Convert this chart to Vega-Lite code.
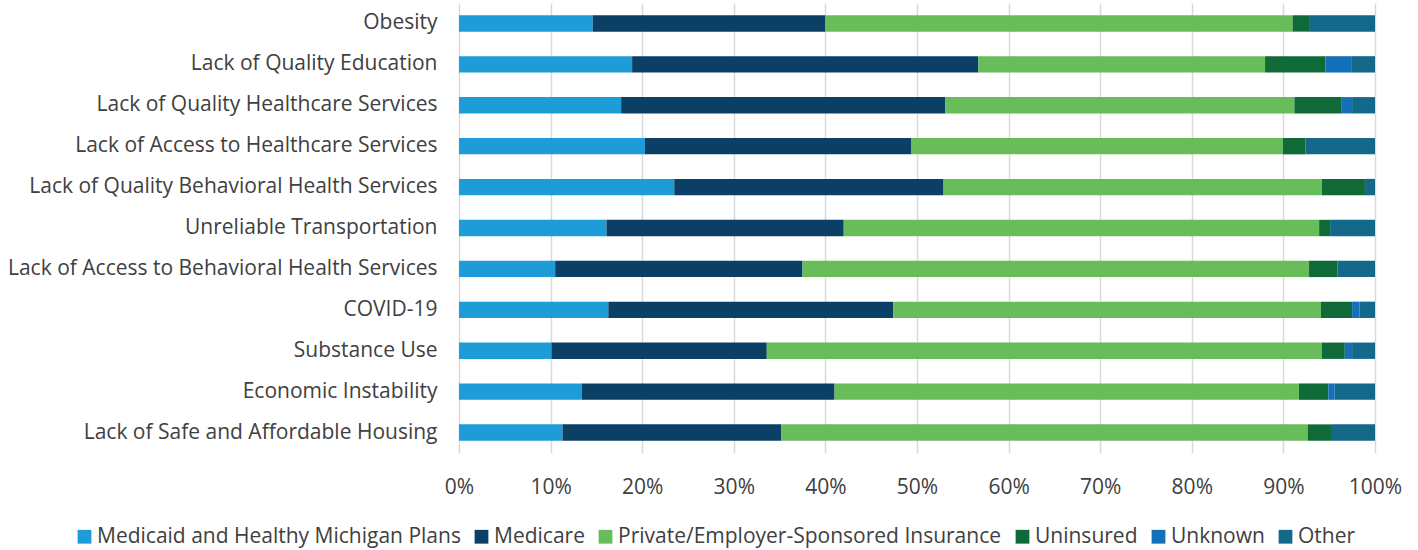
{
  "$schema": "https://vega.github.io/schema/vega-lite/v6.json",
  "width": 916,
  "height": 450,
  "autosize": "none",
  "padding": {"left": 459, "top": 3, "right": 43, "bottom": 97},
  "background": "white",
  "config": {"view": {"stroke": null}, "font": "Open Sans"},
  "data": {"values": [
    {"cause": "Obesity", "plan": "Medicaid and Healthy Michigan Plans", "o": 1, "v": 14.6},
    {"cause": "Obesity", "plan": "Medicare", "o": 2, "v": 25.4},
    {"cause": "Obesity", "plan": "Private/Employer-Sponsored Insurance", "o": 3, "v": 51.0},
    {"cause": "Obesity", "plan": "Uninsured", "o": 4, "v": 1.8},
    {"cause": "Obesity", "plan": "Unknown", "o": 5, "v": 0},
    {"cause": "Obesity", "plan": "Other", "o": 6, "v": 7.2},
    {"cause": "Lack of Quality Education", "plan": "Medicaid and Healthy Michigan Plans", "o": 1, "v": 18.9},
    {"cause": "Lack of Quality Education", "plan": "Medicare", "o": 2, "v": 37.8},
    {"cause": "Lack of Quality Education", "plan": "Private/Employer-Sponsored Insurance", "o": 3, "v": 31.3},
    {"cause": "Lack of Quality Education", "plan": "Uninsured", "o": 4, "v": 6.6},
    {"cause": "Lack of Quality Education", "plan": "Unknown", "o": 5, "v": 2.8},
    {"cause": "Lack of Quality Education", "plan": "Other", "o": 6, "v": 2.6},
    {"cause": "Lack of Quality Healthcare Services", "plan": "Medicaid and Healthy Michigan Plans", "o": 1, "v": 17.7},
    {"cause": "Lack of Quality Healthcare Services", "plan": "Medicare", "o": 2, "v": 35.4},
    {"cause": "Lack of Quality Healthcare Services", "plan": "Private/Employer-Sponsored Insurance", "o": 3, "v": 38.1},
    {"cause": "Lack of Quality Healthcare Services", "plan": "Uninsured", "o": 4, "v": 5.1},
    {"cause": "Lack of Quality Healthcare Services", "plan": "Unknown", "o": 5, "v": 1.2},
    {"cause": "Lack of Quality Healthcare Services", "plan": "Other", "o": 6, "v": 2.5},
    {"cause": "Lack of Access to Healthcare Services", "plan": "Medicaid and Healthy Michigan Plans", "o": 1, "v": 20.3},
    {"cause": "Lack of Access to Healthcare Services", "plan": "Medicare", "o": 2, "v": 29.1},
    {"cause": "Lack of Access to Healthcare Services", "plan": "Private/Employer-Sponsored Insurance", "o": 3, "v": 40.55},
    {"cause": "Lack of Access to Healthcare Services", "plan": "Uninsured", "o": 4, "v": 2.45},
    {"cause": "Lack of Access to Healthcare Services", "plan": "Unknown", "o": 5, "v": 0},
    {"cause": "Lack of Access to Healthcare Services", "plan": "Other", "o": 6, "v": 7.6},
    {"cause": "Lack of Quality Behavioral Health Services", "plan": "Medicaid and Healthy Michigan Plans", "o": 1, "v": 23.5},
    {"cause": "Lack of Quality Behavioral Health Services", "plan": "Medicare", "o": 2, "v": 29.4},
    {"cause": "Lack of Quality Behavioral Health Services", "plan": "Private/Employer-Sponsored Insurance", "o": 3, "v": 41.3},
    {"cause": "Lack of Quality Behavioral Health Services", "plan": "Uninsured", "o": 4, "v": 4.7},
    {"cause": "Lack of Quality Behavioral Health Services", "plan": "Unknown", "o": 5, "v": 0},
    {"cause": "Lack of Quality Behavioral Health Services", "plan": "Other", "o": 6, "v": 1.1},
    {"cause": "Unreliable Transportation", "plan": "Medicaid and Healthy Michigan Plans", "o": 1, "v": 16.1},
    {"cause": "Unreliable Transportation", "plan": "Medicare", "o": 2, "v": 25.9},
    {"cause": "Unreliable Transportation", "plan": "Private/Employer-Sponsored Insurance", "o": 3, "v": 51.9},
    {"cause": "Unreliable Transportation", "plan": "Uninsured", "o": 4, "v": 1.2},
    {"cause": "Unreliable Transportation", "plan": "Unknown", "o": 5, "v": 0},
    {"cause": "Unreliable Transportation", "plan": "Other", "o": 6, "v": 4.9},
    {"cause": "Lack of Access to Behavioral Health Services", "plan": "Medicaid and Healthy Michigan Plans", "o": 1, "v": 10.5},
    {"cause": "Lack of Access to Behavioral Health Services", "plan": "Medicare", "o": 2, "v": 27.0},
    {"cause": "Lack of Access to Behavioral Health Services", "plan": "Private/Employer-Sponsored Insurance", "o": 3, "v": 55.3},
    {"cause": "Lack of Access to Behavioral Health Services", "plan": "Uninsured", "o": 4, "v": 3.1},
    {"cause": "Lack of Access to Behavioral Health Services", "plan": "Unknown", "o": 5, "v": 0},
    {"cause": "Lack of Access to Behavioral Health Services", "plan": "Other", "o": 6, "v": 4.1},
    {"cause": "COVID-19", "plan": "Medicaid and Healthy Michigan Plans", "o": 1, "v": 16.3},
    {"cause": "COVID-19", "plan": "Medicare", "o": 2, "v": 31.1},
    {"cause": "COVID-19", "plan": "Private/Employer-Sponsored Insurance", "o": 3, "v": 46.7},
    {"cause": "COVID-19", "plan": "Uninsured", "o": 4, "v": 3.4},
    {"cause": "COVID-19", "plan": "Unknown", "o": 5, "v": 0.8},
    {"cause": "COVID-19", "plan": "Other", "o": 6, "v": 1.7},
    {"cause": "Substance Use", "plan": "Medicaid and Healthy Michigan Plans", "o": 1, "v": 10.1},
    {"cause": "Substance Use", "plan": "Medicare", "o": 2, "v": 23.5},
    {"cause": "Substance Use", "plan": "Private/Employer-Sponsored Insurance", "o": 3, "v": 60.6},
    {"cause": "Substance Use", "plan": "Uninsured", "o": 4, "v": 2.5},
    {"cause": "Substance Use", "plan": "Unknown", "o": 5, "v": 0.8},
    {"cause": "Substance Use", "plan": "Other", "o": 6, "v": 2.5},
    {"cause": "Economic Instability", "plan": "Medicaid and Healthy Michigan Plans", "o": 1, "v": 13.4},
    {"cause": "Economic Instability", "plan": "Medicare", "o": 2, "v": 27.6},
    {"cause": "Economic Instability", "plan": "Private/Employer-Sponsored Insurance", "o": 3, "v": 50.7},
    {"cause": "Economic Instability", "plan": "Uninsured", "o": 4, "v": 3.2},
    {"cause": "Economic Instability", "plan": "Unknown", "o": 5, "v": 0.7},
    {"cause": "Economic Instability", "plan": "Other", "o": 6, "v": 4.4},
    {"cause": "Lack of Safe and Affordable Housing", "plan": "Medicaid and Healthy Michigan Plans", "o": 1, "v": 11.3},
    {"cause": "Lack of Safe and Affordable Housing", "plan": "Medicare", "o": 2, "v": 23.9},
    {"cause": "Lack of Safe and Affordable Housing", "plan": "Private/Employer-Sponsored Insurance", "o": 3, "v": 57.45},
    {"cause": "Lack of Safe and Affordable Housing", "plan": "Uninsured", "o": 4, "v": 2.65},
    {"cause": "Lack of Safe and Affordable Housing", "plan": "Unknown", "o": 5, "v": 0},
    {"cause": "Lack of Safe and Affordable Housing", "plan": "Other", "o": 6, "v": 4.7}
  ]},
  "mark": {"type": "bar"},
  "encoding": {
    "y": {
      "field": "cause", "type": "nominal", "sort": null, "title": null,
      "scale": {"paddingInner": 0.6, "paddingOuter": 0.3},
      "axis": {"domain": false, "ticks": false, "labelFontSize": 21, "labelColor": "#404040", "labelPadding": 22, "labelLimit": 460, "grid": false}
    },
    "x": {
      "field": "v", "type": "quantitative", "stack": "normalize", "title": null,
      "scale": {"domain": [0, 1], "nice": false},
      "axis": {"format": ".0%", "values": [0, 0.1, 0.2, 0.3, 0.4, 0.5, 0.6, 0.7, 0.8, 0.9, 1], "domain": false, "ticks": false, "grid": true, "gridColor": "#d9d9d9", "gridWidth": 1.5, "labelFontSize": 21, "labelColor": "#404040", "labelPadding": 23, "labelFlush": false}
    },
    "color": {
      "field": "plan", "type": "nominal", "title": null,
      "scale": {
        "domain": ["Medicaid and Healthy Michigan Plans", "Medicare", "Private/Employer-Sponsored Insurance", "Uninsured", "Unknown", "Other"],
        "range": ["#1e9cd7", "#0c3f66", "#68bc5a", "#0f6a37", "#1470b8", "#14698a"]
      },
      "legend": {
        "orient": "none", "direction": "horizontal", "columns": 6,
        "legendX": -385, "legendY": 523,
        "symbolType": "square", "symbolSize": 190, "symbolStrokeWidth": 0,
        "labelFontSize": 21, "labelColor": "#404040", "labelLimit": 500,
        "columnPadding": 10, "labelOffset": 2
      }
    },
    "order": {"field": "o", "type": "quantitative"}
  }
}
